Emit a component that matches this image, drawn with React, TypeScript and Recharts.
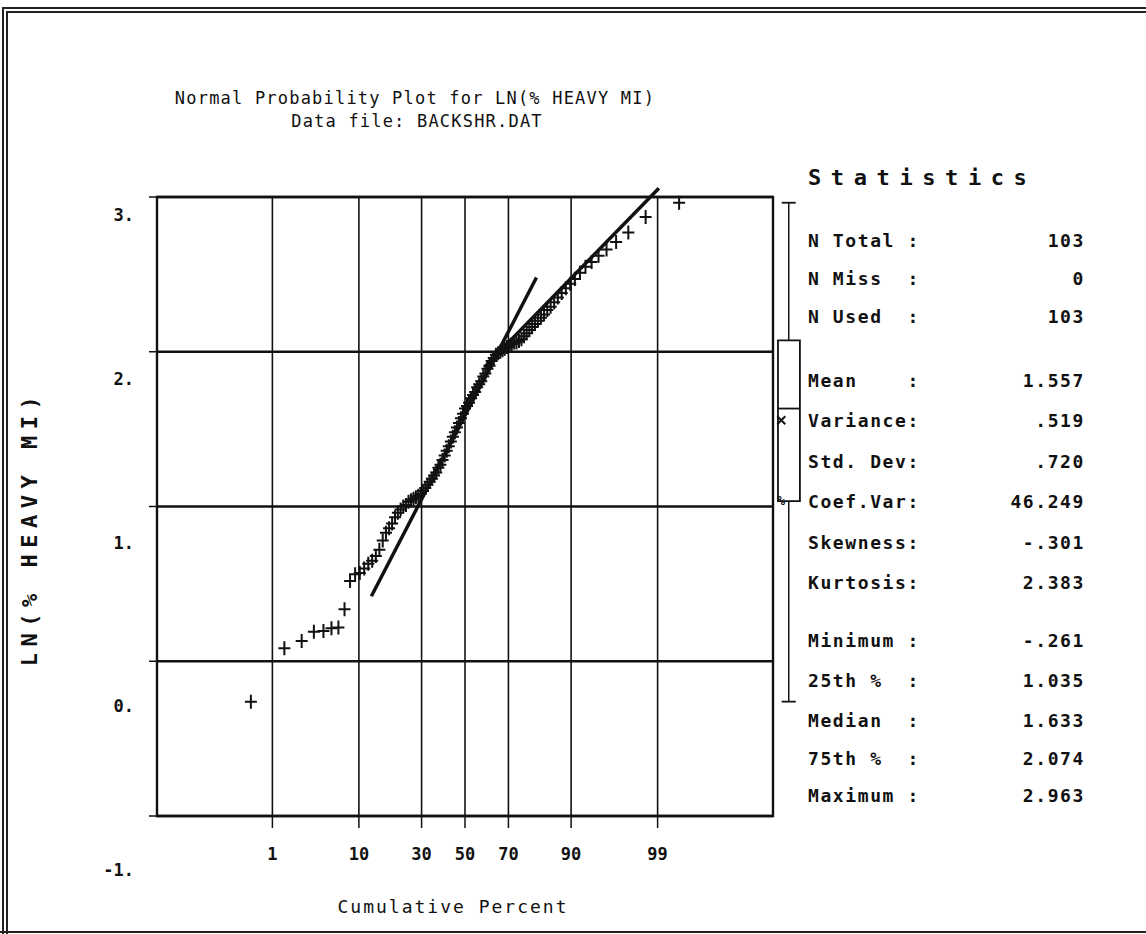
import { ComposedChart, Scatter, XAxis, YAxis, CartesianGrid, ReferenceLine, ReferenceArea, ReferenceDot } from 'recharts';

const W = 1146;
const H = 934;
const MONO = '"DejaVu Sans Mono", "Liberation Mono", monospace';

// sorted LN(% heavy MI) observations (n = 103)
const lnHeavyMi = [
  -0.261, 0.084, 0.131, 0.19, 0.196, 0.213, 0.218, 0.336, 0.519, 0.562,
  0.57, 0.6, 0.63, 0.65, 0.68, 0.72, 0.78, 0.83, 0.86, 0.89,
  0.93, 0.96, 0.98, 1.0, 1.01, 1.03, 1.04, 1.05, 1.06, 1.07,
  1.08, 1.1, 1.12, 1.14, 1.16, 1.18, 1.2, 1.22, 1.25, 1.27,
  1.3, 1.33, 1.36, 1.39, 1.42, 1.45, 1.48, 1.51, 1.54, 1.57,
  1.6, 1.633, 1.65, 1.67, 1.7, 1.72, 1.74, 1.77, 1.79, 1.81,
  1.84, 1.86, 1.89, 1.91, 1.94, 1.96, 1.98, 1.99, 2.0, 2.01,
  2.02, 2.03, 2.04, 2.05, 2.06, 2.06, 2.07, 2.08, 2.1, 2.12,
  2.14, 2.16, 2.18, 2.2, 2.22, 2.24, 2.27, 2.29, 2.32, 2.35,
  2.38, 2.41, 2.44, 2.47, 2.51, 2.55, 2.58, 2.62, 2.66, 2.71,
  2.77, 2.87, 2.963,
];

const percentTicks = [1, 10, 30, 50, 70, 90, 99];
const valueTicks = [-1, 0, 1, 2, 3];

// hand-fitted reference lines: [cumulative percent, value]
const lowerFit = [[12.9, 0.42], [80.6, 2.48]];
const upperFit = [[59.3, 1.9], [99.04, 3.057]];

// summary statistics
const statLabels = [
  'N Total :', 'N Miss  :', 'N Used  :',
  'Mean    :', 'Variance:', 'Std. Dev:', 'Coef.Var:', 'Skewness:', 'Kurtosis:',
  'Minimum :', '25th %  :', 'Median  :', '75th %  :', 'Maximum :',
];
const statValues = [
  '103', '0', '103',
  '1.557', '.519', '.720', '46.249', '-.301', '2.383',
  '-.261', '1.035', '1.633', '2.074', '2.963',
];
const statRowY = [240, 278, 316, 380, 420, 461, 501, 542, 582, 640, 680, 720, 758, 795];

const MIN = -0.261;
const Q1 = 1.035;
const MEDIAN = 1.633;
const MEAN = 1.557;
const Q3 = 2.074;
const MAX = 2.963;

// inverse standard normal CDF (Acklam)
function normInv(p: number): number {
  const a = [-39.69683028665376, 220.9460984245205, -275.9285104469687, 138.357751867269, -30.66479806614716, 2.506628277459239];
  const b = [-54.47609879822406, 161.5858368580409, -155.6989798598866, 66.80131188771972, -13.28068155288572];
  const c = [-0.007784894002430293, -0.3223964580411365, -2.400758277161838, -2.549671010115146, 4.374664141464968, 2.938163982698783];
  const d = [0.007784695709041462, 0.3224671290700398, 2.445134137142996, 3.754408661907416];
  const lo = 0.02425;
  if (p < lo || p > 1 - lo) {
    const q = Math.sqrt(-2 * Math.log(p < lo ? p : 1 - p));
    const z = (((((c[0] * q + c[1]) * q + c[2]) * q + c[3]) * q + c[4]) * q + c[5]) /
      ((((d[0] * q + d[1]) * q + d[2]) * q + d[3]) * q + 1);
    return p < lo ? z : -z;
  }
  const q = p - 0.5;
  const r = q * q;
  return ((((((a[0] * r + a[1]) * r + a[2]) * r + a[3]) * r + a[4]) * r + a[5]) * q) /
    (((((b[0] * r + b[1]) * r + b[2]) * r + b[3]) * r + b[4]) * r + 1);
}

const n = lnHeavyMi.length;
const points = lnHeavyMi.map((v, i) => ({ z: normInv((i + 0.5) / n), v }));
const zTicks = percentTicks.map((p) => normInv(p / 100));
const Z_EDGE = 3.72;

const seg = (line: number[][]) => line.map(([pct, v]) => ({ x: normInv(pct / 100), y: v }));

// box plot sits just right of the frame, in the same value scale
const BOX_L = 3.78;
const BOX_R = 4.045;
const WHISK = 3.91;
const CAP = 0.085;

const Plus = (props: any) => {
  const { cx, cy } = props;
  if (cx == null || cy == null) return null;
  return <path d={`M${cx - 6},${cy}h12M${cx},${cy - 7}v14`} stroke="#111" strokeWidth={2} fill="none" />;
};

const XTick = ({ x, y, payload }: any) => {
  let idx = 0;
  zTicks.forEach((t, i) => {
    if (Math.abs(t - payload.value) < Math.abs(zTicks[idx] - payload.value)) idx = i;
  });
  return (
    <text x={x} y={y} dy={30} textAnchor="middle" fontFamily={MONO} fontWeight="bold" fontSize={17} fill="#111">
      {percentTicks[idx]}
    </text>
  );
};

const YTick = ({ x, y, payload }: any) => (
  <text x={x - 13} y={y} dy={24 + (3 - payload.value) * 9} textAnchor="end" fontFamily={MONO} fontWeight="bold" fontSize={17} fill="#111">
    {`${payload.value}.`}
  </text>
);

const Cross = (props: any) => {
  const { cx, cy } = props;
  return <path d={`M${cx - 4},${cy - 4}l8,8M${cx + 4},${cy - 4}l-8,8`} stroke="#111" strokeWidth={2} />;
};

const Pct = (props: any) => {
  const { cx, cy } = props;
  return (
    <text x={cx} y={cy} dy={4} textAnchor="middle" fontFamily={MONO} fontWeight="bold" fontSize={13} fill="#111">%</text>
  );
};

export default function App() {
  return (
    <div style={{ position: 'absolute', left: 0, top: 0, width: W, height: H, background: '#fff' }}>
      <ComposedChart width={W} height={H} data={points} margin={{ top: 197, right: 373, bottom: 88, left: 97 }}>
        <CartesianGrid horizontal={false} stroke="#111" strokeWidth={1.6} />
        <CartesianGrid vertical={false} stroke="#111" strokeWidth={2.4} />
        <XAxis
          dataKey="z"
          type="number"
          domain={[-Z_EDGE, Z_EDGE]}
          ticks={zTicks}
          axisLine={false}
          tickLine={{ stroke: '#111', strokeWidth: 1.5 }}
          tickSize={12}
          tick={<XTick />}
          interval={0}
        />
        <YAxis
          dataKey="v"
          type="number"
          domain={[-1, 3]}
          ticks={valueTicks}
          axisLine={false}
          tickLine={{ stroke: '#111', strokeWidth: 1.5 }}
          tickSize={8}
          tick={<YTick />}
          interval={0}
        />
        <ReferenceArea x1={-Z_EDGE} x2={Z_EDGE} y1={-1} y2={3} fill="none" fillOpacity={0} stroke="#111" strokeWidth={2.4} />
        <Scatter dataKey="v" shape={<Plus />} isAnimationActive={false} />
        <ReferenceLine segment={seg(lowerFit)} stroke="#111" strokeWidth={3.5} ifOverflow="visible" />
        <ReferenceLine segment={seg(upperFit)} stroke="#111" strokeWidth={3.5} ifOverflow="visible" />

        {/* box plot */}
        <ReferenceArea x1={BOX_L} x2={BOX_R} y1={Q1} y2={Q3} fill="none" fillOpacity={0} stroke="#111" strokeWidth={1.8} ifOverflow="visible" />
        <ReferenceLine segment={[{ x: BOX_L, y: MEDIAN }, { x: BOX_R, y: MEDIAN }]} stroke="#111" strokeWidth={1.8} ifOverflow="visible" />
        <ReferenceLine segment={[{ x: WHISK, y: Q3 }, { x: WHISK, y: MAX }]} stroke="#111" strokeWidth={1.5} ifOverflow="visible" />
        <ReferenceLine segment={[{ x: WHISK - CAP, y: MAX }, { x: WHISK + CAP, y: MAX }]} stroke="#111" strokeWidth={1.8} ifOverflow="visible" />
        <ReferenceLine segment={[{ x: WHISK, y: MIN }, { x: WHISK, y: Q1 }]} stroke="#111" strokeWidth={1.5} ifOverflow="visible" />
        <ReferenceLine segment={[{ x: WHISK - CAP, y: MIN }, { x: WHISK + CAP, y: MIN }]} stroke="#111" strokeWidth={1.8} ifOverflow="visible" />
        <ReferenceDot x={BOX_L + 0.04} y={MEAN} r={4} shape={<Cross />} ifOverflow="visible" />
        <ReferenceDot x={BOX_L + 0.04} y={Q1} r={4} shape={<Pct />} ifOverflow="visible" />
      </ComposedChart>

      <svg width={W} height={H} style={{ position: 'absolute', left: 0, top: 0, pointerEvents: 'none' }}>
        {/* page frame */}
        <path d={`M3,${H}V8H${W}M7,${H}V12H${W}`} stroke="#222" strokeWidth={2} fill="none" />
        <line x1={0} y1={932} x2={W} y2={932} stroke="#222" strokeWidth={2} />

        <g fontFamily={MONO} fill="#111">
          <text x={415} y={104} textAnchor="middle" fontSize={17} letterSpacing={1.2}>
            Normal Probability Plot for LN(% HEAVY MI)
          </text>
          <text x={417} y={127} textAnchor="middle" fontSize={17} letterSpacing={1.2}>
            Data file: BACKSHR.DAT
          </text>
          <text x={453} y={913} textAnchor="middle" fontSize={18} letterSpacing={2}>
            Cumulative Percent
          </text>
          <text
            transform="translate(37,528) rotate(-90)"
            textAnchor="middle"
            fontSize={22}
            fontWeight="bold"
            letterSpacing={6.5}
          >
            LN(% HEAVY MI)
          </text>

          <text x={808} y={185} fontSize={22} fontWeight="bold" letterSpacing={9.6}>Statistics</text>
          {statLabels.map((label, i) => (
            <g key={label}>
              <text x={808} y={statRowY[i]} dy={7} fontSize={18} fontWeight="bold" letterSpacing={1.6} style={{ whiteSpace: 'pre' }}>
                {label}
              </text>
              <text x={1085} y={statRowY[i]} dy={7} textAnchor="end" fontSize={18} fontWeight="bold" letterSpacing={1.6}>
                {statValues[i]}
              </text>
            </g>
          ))}
        </g>
      </svg>
    </div>
  );
}
